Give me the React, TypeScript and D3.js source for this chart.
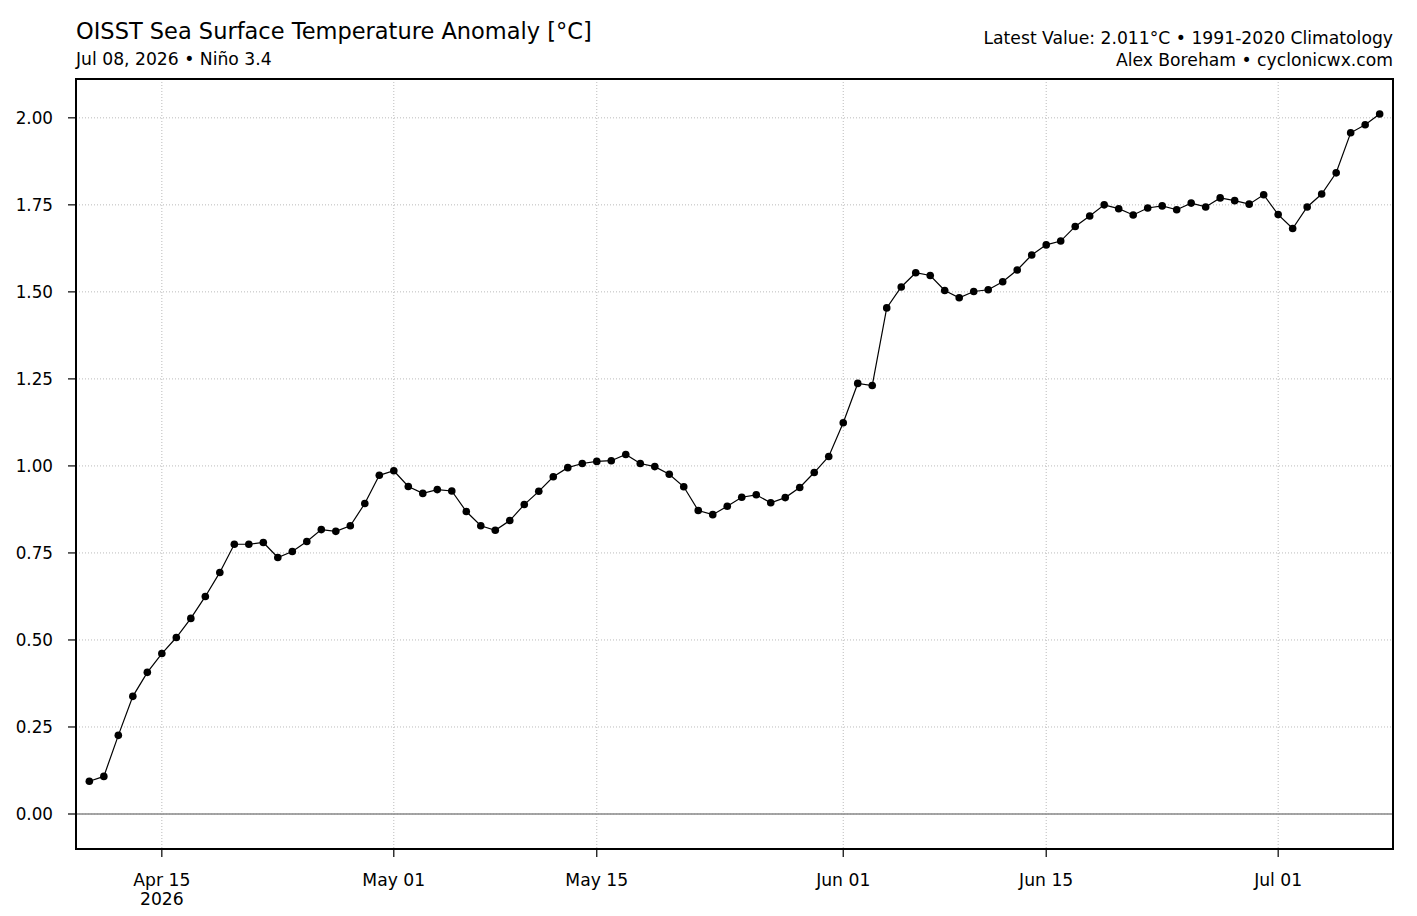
import React, { useEffect, useRef } from "react";
import * as d3 from "d3";

// daily Niño 3.4 OISST anomalies, Apr 10 -> Jul 08 2026
const startDay = "2026-04-10";
const aprilValues = [0.094, 0.108, 0.226, 0.338, 0.407, 0.461, 0.507, 0.562, 0.625, 0.694, 0.775,
  0.775, 0.780, 0.737, 0.754, 0.783, 0.817, 0.812, 0.828, 0.892, 0.973];
const mayValues = [0.986, 0.941, 0.921, 0.932, 0.928, 0.869, 0.828, 0.815, 0.843, 0.889,
  0.927, 0.969, 0.995, 1.007, 1.013, 1.015, 1.033, 1.007, 0.998, 0.976,
  0.940, 0.872, 0.860, 0.884, 0.910, 0.917, 0.894, 0.909, 0.938, 0.981, 1.027];
const juneValues = [1.124, 1.237, 1.231, 1.454, 1.514, 1.555, 1.547, 1.504, 1.483, 1.501,
  1.506, 1.529, 1.563, 1.606, 1.635, 1.646, 1.688, 1.718, 1.750, 1.739,
  1.721, 1.741, 1.747, 1.736, 1.755, 1.744, 1.770, 1.762, 1.752, 1.779];
const julyValues = [1.722, 1.682, 1.744, 1.781, 1.842, 1.957, 1.980, 2.011];

const yTicks = [0, 0.25, 0.5, 0.75, 1.0, 1.25, 1.5, 1.75, 2.0];
const xTickDays = ["2026-04-15", "2026-05-01", "2026-05-15", "2026-06-01", "2026-06-15", "2026-07-01"];

const titleText = "OISST Sea Surface Temperature Anomaly [°C]";
const subtitleText = "Jul 08, 2026 • Niño 3.4";
const rightLine1 = "Latest Value: 2.011°C • 1991-2020 Climatology";
const rightLine2 = "Alex Boreham • cyclonicwx.com";

const App = () => {
  const ref = useRef<SVGSVGElement>(null);

  useEffect(() => {
    document.body.style.margin = "0";
    const width = 1417;
    const height = 916;
    const m = { left: 76, right: 1393, top: 79, bottom: 849 };
    const font = "'DejaVu Sans', sans-serif";
    const small = "17.2px";

    const values = [...aprilValues, ...mayValues, ...juneValues, ...julyValues];
    const t0 = new Date(startDay + "T00:00:00Z");
    const data = values.map((v, i) => ({ date: d3.utcDay.offset(t0, i), value: v }));

    const svg = d3.select(ref.current)
      .attr("viewBox", `0 0 ${width} ${height}`)
      .attr("width", width)
      .attr("height", height)
      .style("display", "block")
      .style("background", "#fff");
    svg.selectAll("*").remove();

    const [dMin, dMax] = d3.extent(data, d => d.date) as [Date, Date];
    const pad = 0.92 * 864e5;
    const x = d3.scaleUtc()
      .domain([new Date(+dMin - pad), new Date(+dMax + pad)])
      .range([m.left, m.right]);

    const vMax = d3.max(values) as number;
    const yPad = vMax * 0.05;
    const y = d3.scaleLinear()
      .domain([-yPad, vMax + yPad])
      .range([m.bottom, m.top]);

    const xTicks = xTickDays.map(s => new Date(s + "T00:00:00Z"));
    const fmt = d3.utcFormat("%b %d");

    // grid
    const grid = svg.append("g")
      .attr("stroke", "#aaaaaa")
      .attr("stroke-width", 0.8)
      .attr("stroke-dasharray", "1,2");
    grid.selectAll("line.h").data(yTicks).enter().append("line")
      .attr("x1", m.left).attr("x2", m.right)
      .attr("y1", d => y(d)).attr("y2", d => y(d));
    grid.selectAll("line.v").data(xTicks).enter().append("line")
      .attr("y1", m.top).attr("y2", m.bottom)
      .attr("x1", d => x(d)).attr("x2", d => x(d));

    // zero line
    svg.append("line")
      .attr("x1", m.left).attr("x2", m.right)
      .attr("y1", y(0)).attr("y2", y(0))
      .attr("stroke", "#888888")
      .attr("stroke-width", 1.4);

    // series
    const line = d3.line<{ date: Date; value: number }>()
      .x(d => x(d.date))
      .y(d => y(d.value));
    svg.append("path")
      .datum(data)
      .attr("d", line)
      .attr("fill", "none")
      .attr("stroke", "#000")
      .attr("stroke-width", 1.2);
    svg.append("g").selectAll("circle").data(data).enter().append("circle")
      .attr("cx", d => x(d.date))
      .attr("cy", d => y(d.value))
      .attr("r", 3.8)
      .attr("fill", "#000");

    // frame
    svg.append("rect")
      .attr("x", m.left).attr("y", m.top)
      .attr("width", m.right - m.left).attr("height", m.bottom - m.top)
      .attr("fill", "none")
      .attr("stroke", "#000")
      .attr("stroke-width", 2);

    // y axis
    const ya = svg.append("g").style("font-family", font).style("font-size", "16.8px");
    ya.selectAll("line").data(yTicks).enter().append("line")
      .attr("x1", m.left - 8).attr("x2", m.left)
      .attr("y1", d => y(d)).attr("y2", d => y(d))
      .attr("stroke", "#000").attr("stroke-width", 1.2);
    ya.selectAll("text").data(yTicks).enter().append("text")
      .attr("x", m.left - 23)
      .attr("y", d => y(d))
      .attr("dy", "0.35em")
      .attr("text-anchor", "end")
      .text(d => d.toFixed(2));

    // x axis
    const xa = svg.append("g").style("font-family", font).style("font-size", small);
    xa.selectAll("line").data(xTicks).enter().append("line")
      .attr("x1", d => x(d)).attr("x2", d => x(d))
      .attr("y1", m.bottom).attr("y2", m.bottom + 8)
      .attr("stroke", "#000").attr("stroke-width", 1.2);
    xa.selectAll("text").data(xTicks).enter().append("text")
      .attr("x", d => x(d))
      .attr("y", 886)
      .attr("text-anchor", "middle")
      .text(d => fmt(d));
    xa.append("text")
      .attr("x", x(xTicks[0]))
      .attr("y", 905)
      .attr("text-anchor", "middle")
      .text(d3.utcFormat("%Y")(xTicks[0]));

    // headers
    svg.append("text")
      .attr("x", m.left).attr("y", 39)
      .style("font-family", font).style("font-size", "22.5px")
      .text(titleText);
    svg.append("text")
      .attr("x", m.left).attr("y", 65)
      .style("font-family", font).style("font-size", small)
      .text(subtitleText);
    svg.append("text")
      .attr("x", m.right).attr("y", 44)
      .attr("text-anchor", "end")
      .style("font-family", font).style("font-size", small)
      .text(rightLine1);
    svg.append("text")
      .attr("x", m.right).attr("y", 66)
      .attr("text-anchor", "end")
      .style("font-family", font).style("font-size", small)
      .text(rightLine2);
  }, []);

  return <svg ref={ref}></svg>;
};

export default App;
